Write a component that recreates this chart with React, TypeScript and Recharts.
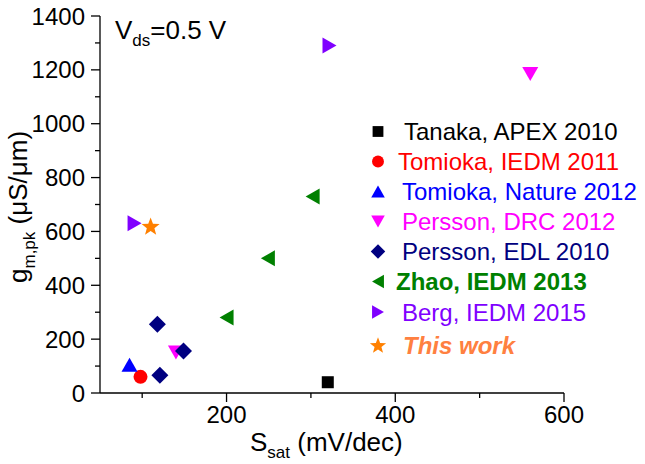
import React from 'react';
import { ScatterChart, Scatter, XAxis, YAxis, Customized } from 'recharts';

const seriesNames = [
  'Tanaka, APEX 2010',
  'Tomioka, IEDM 2011',
  'Tomioka, Nature 2012',
  'Persson, DRC 2012',
  'Persson, EDL 2010',
  'Zhao, IEDM 2013',
  'Berg, IEDM 2015',
  'This work',
];

const tanaka = [{ x: 320, y: 40 }];
const tomiokaIedm = [{ x: 98, y: 60 }];
const tomiokaNature = [{ x: 85, y: 105 }];
const perssonDrc = [{ x: 140, y: 150 }, { x: 560, y: 1185 }];
const perssonEdl = [{ x: 118, y: 255 }, { x: 121, y: 66 }, { x: 149, y: 156 }];
const zhao = [{ x: 200, y: 280 }, { x: 249, y: 500 }, { x: 302, y: 730 }];
const berg = [{ x: 322, y: 1290 }, { x: 91, y: 630 }];
const thisWork = [{ x: 110, y: 620 }];

const xTicks = [100, 200, 300, 400, 500, 600];
const yTicks = [0, 100, 200, 300, 400, 500, 600, 700, 800, 900, 1000, 1100, 1200, 1300, 1400];
const xLabeled = [200, 400, 600];
const yLabeled = [0, 200, 400, 600, 800, 1000, 1200, 1400];

const FONT = '"Liberation Sans", Arial, Helvetica, sans-serif';

const COLORS = {
  tanaka: '#000000',
  tomiokaIedm: '#ff0000',
  tomiokaNature: '#0000ff',
  perssonDrc: '#ff00ff',
  perssonEdl: '#000080',
  zhao: '#008000',
  berg: '#8000ff',
  thisWork: '#ff8000',
};

type ShapeFn = (cx: number, cy: number, color: string, s?: number) => React.ReactElement;

const square: ShapeFn = (cx, cy, c, s = 1) => (
  <rect x={cx - 6 * s} y={cy - 6 * s} width={12 * s} height={12 * s} fill={c} />
);
const circle: ShapeFn = (cx, cy, c, s = 1) => <circle cx={cx} cy={cy} r={7 * s} fill={c} />;
const triUp: ShapeFn = (cx, cy, c, s = 1) => (
  <polygon points={`${cx - 8 * s},${cy + 7 * s} ${cx + 8 * s},${cy + 7 * s} ${cx},${cy - 7 * s}`} fill={c} />
);
const triDown: ShapeFn = (cx, cy, c, s = 1) => (
  <polygon points={`${cx - 8 * s},${cy - 7 * s} ${cx + 8 * s},${cy - 7 * s} ${cx},${cy + 7 * s}`} fill={c} />
);
const diamond: ShapeFn = (cx, cy, c, s = 1) => (
  <polygon points={`${cx},${cy - 8.5 * s} ${cx + 8.5 * s},${cy} ${cx},${cy + 8.5 * s} ${cx - 8.5 * s},${cy}`} fill={c} />
);
const triLeft: ShapeFn = (cx, cy, c, s = 1) => (
  <polygon points={`${cx + 7 * s},${cy - 8 * s} ${cx + 7 * s},${cy + 8 * s} ${cx - 7 * s},${cy}`} fill={c} />
);
const triRight: ShapeFn = (cx, cy, c, s = 1) => (
  <polygon points={`${cx - 7 * s},${cy - 8 * s} ${cx - 7 * s},${cy + 8 * s} ${cx + 7 * s},${cy}`} fill={c} />
);
const star: ShapeFn = (cx, cy, c, s = 1) => {
  const pts: string[] = [];
  const R = 9.5 * s;
  const r = 4 * s;
  for (let i = 0; i < 10; i++) {
    const a = -Math.PI / 2 + (i * Math.PI) / 5;
    const rad = i % 2 === 0 ? R : r;
    pts.push(`${cx + rad * Math.cos(a)},${cy + rad * Math.sin(a) + 1 * s}`);
  }
  return <polygon points={pts.join(' ')} fill={c} />;
};

const mk = (fn: ShapeFn, color: string) => (props: any) => fn(props.cx, props.cy, color);

const XTick = (props: any) => {
  const { x, y, payload } = props;
  const v = payload.value;
  const major = xLabeled.includes(v);
  return (
    <g>
      <line x1={x} x2={x} y1={y} y2={y + (major ? 9 : 5)} stroke="#000" strokeWidth={1.3} />
      {major && (
        <text x={x} y={y + 30} textAnchor="middle" fontFamily={FONT} fontSize={24} fill="#000">
          {v}
        </text>
      )}
    </g>
  );
};

const YTick = (props: any) => {
  const { x, y, payload } = props;
  const v = payload.value;
  const major = yLabeled.includes(v);
  return (
    <g>
      <line x1={x} x2={x - (major ? 9 : 5)} y1={y} y2={y} stroke="#000" strokeWidth={1.3} />
      {major && (
        <text x={x - 15} y={y + 8.6} textAnchor="end" fontFamily={FONT} fontSize={24} fill="#000">
          {v}
        </text>
      )}
    </g>
  );
};

const legendShapes: { fn: ShapeFn; color: string; textColor: string; weight: string; style: string; dx: number; y: number; s: number }[] = [
  { fn: square, color: COLORS.tanaka, textColor: '#000000', weight: 'normal', style: 'normal', dx: 404, y: 131.5, s: 0.9 },
  { fn: circle, color: COLORS.tomiokaIedm, textColor: '#ff0000', weight: 'normal', style: 'normal', dx: 398, y: 161.5, s: 0.85 },
  { fn: triUp, color: COLORS.tomiokaNature, textColor: '#0000ff', weight: 'normal', style: 'normal', dx: 402, y: 191.5, s: 0.85 },
  { fn: triDown, color: COLORS.perssonDrc, textColor: '#ff00ff', weight: 'normal', style: 'normal', dx: 402, y: 221.5, s: 0.85 },
  { fn: diamond, color: COLORS.perssonEdl, textColor: '#000080', weight: 'normal', style: 'normal', dx: 402, y: 251.5, s: 0.85 },
  { fn: triLeft, color: COLORS.zhao, textColor: '#008000', weight: 'bold', style: 'normal', dx: 396, y: 281.5, s: 0.85 },
  { fn: triRight, color: COLORS.berg, textColor: '#8000ff', weight: 'normal', style: 'normal', dx: 402, y: 312, s: 0.85 },
  { fn: star, color: COLORS.thisWork, textColor: '#ff8040', weight: 'bold', style: 'italic', dx: 403, y: 345, s: 0.9 },
];

const Overlay = () => (
  <g>
    <text x={115} y={39} fontFamily={FONT} fontSize={26} fill="#000">
      V<tspan fontSize={17} dy={7}>ds</tspan>
      <tspan dy={-7}>=0.5 V</tspan>
    </text>
    <text x={250} y={451} fontFamily={FONT} fontSize={26} fill="#000">
      S<tspan fontSize={17} dy={7}>sat</tspan>
      <tspan dy={-7}> (mV/dec)</tspan>
    </text>
    <text x={27} y={283} transform="rotate(-90 27 283)" fontFamily={FONT} fontSize={26} fill="#000">
      g<tspan fontSize={17} dy={8}>m,pk</tspan>
      <tspan dy={-8}> (μS/μm)</tspan>
    </text>
    {legendShapes.map((l, i) => (
      <g key={i}>
        {l.fn(378, l.y, l.color, l.s)}
        <text
          x={l.dx}
          y={l.y + 8.6}
          fontFamily={FONT}
          fontSize={24}
          fontWeight={l.weight}
          fontStyle={l.style}
          fill={l.textColor}
        >
          {seriesNames[i]}
        </text>
      </g>
    ))}
  </g>
);

export default function App() {
  return (
    <div style={{ position: 'absolute', left: 0, top: 0 }}>
      <ScatterChart width={645} height={464} margin={{ top: 16, right: 81, bottom: 0, left: 0 }}>
        <XAxis
          type="number"
          dataKey="x"
          domain={[50, 600]}
          ticks={xTicks}
          tick={<XTick />}
          tickLine={false}
          tickSize={0}
          tickMargin={0}
          height={71}
          axisLine={{ stroke: '#000', strokeWidth: 1.3 }}
          allowDataOverflow
        />
        <YAxis
          type="number"
          dataKey="y"
          domain={[0, 1400]}
          ticks={yTicks}
          tick={<YTick />}
          tickLine={false}
          tickSize={0}
          tickMargin={0}
          width={100}
          axisLine={{ stroke: '#000', strokeWidth: 1.3 }}
          allowDataOverflow
        />
        <Scatter name={seriesNames[0]} data={tanaka} shape={mk(square, COLORS.tanaka)} isAnimationActive={false} />
        <Scatter name={seriesNames[1]} data={tomiokaIedm} shape={mk(circle, COLORS.tomiokaIedm)} isAnimationActive={false} />
        <Scatter name={seriesNames[2]} data={tomiokaNature} shape={mk(triUp, COLORS.tomiokaNature)} isAnimationActive={false} />
        <Scatter name={seriesNames[3]} data={perssonDrc} shape={mk(triDown, COLORS.perssonDrc)} isAnimationActive={false} />
        <Scatter name={seriesNames[4]} data={perssonEdl} shape={mk(diamond, COLORS.perssonEdl)} isAnimationActive={false} />
        <Scatter name={seriesNames[5]} data={zhao} shape={mk(triLeft, COLORS.zhao)} isAnimationActive={false} />
        <Scatter name={seriesNames[6]} data={berg} shape={mk(triRight, COLORS.berg)} isAnimationActive={false} />
        <Scatter name={seriesNames[7]} data={thisWork} shape={mk(star, COLORS.thisWork)} isAnimationActive={false} />
        <Customized component={Overlay} />
      </ScatterChart>
    </div>
  );
}
